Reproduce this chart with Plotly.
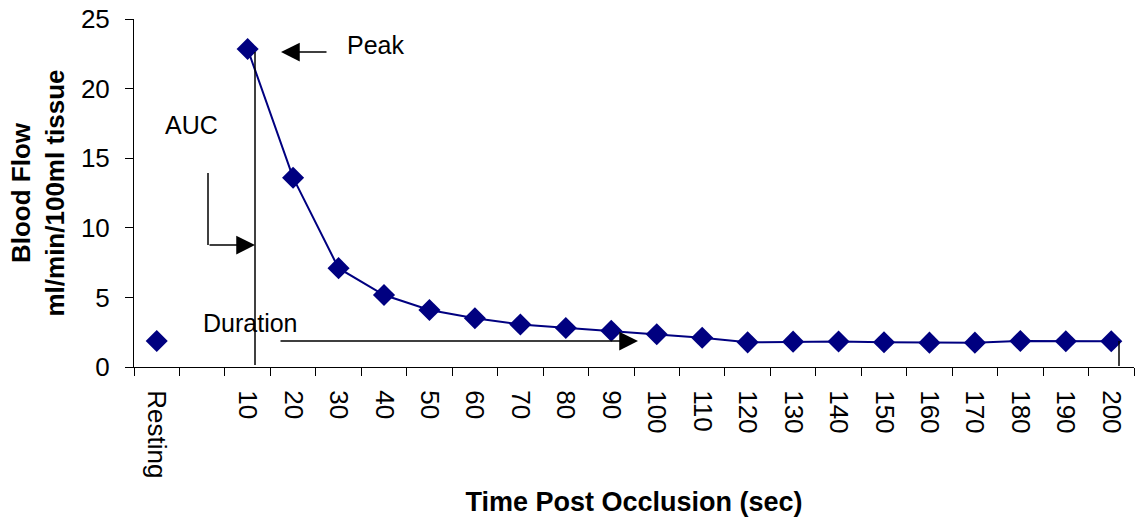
import plotly.graph_objects as go

categories = ["Resting", " ", "10", "20", "30", "40", "50", "60", "70", "80", "90", "100",
              "110", "120", "130", "140", "150", "160", "170", "180", "190", "200"]
blood_flow = [1.87, None, 22.84, 13.6, 7.1, 5.17, 4.1, 3.5, 3.05, 2.8, 2.6, 2.35,
              2.1, 1.77, 1.82, 1.83, 1.78, 1.75, 1.75, 1.87, 1.85, 1.85]

W, H = 1136, 520
L, R, T, B = 134, 2, 19, 153
PW, PH = W - L - R, H - T - B

def px_x(p):
    return (p - L) / PW

def px_y(p):
    return (H - B - p) / PH

fig = go.Figure()
fig.add_trace(go.Scatter(
    x=categories, y=blood_flow, mode="lines+markers",
    line=dict(color="#000080", width=2),
    marker=dict(symbol="diamond", size=17, color="#000080"),
    connectgaps=False, showlegend=False, cliponaxis=False,
))

line_style = dict(color="black", width=1.5)
shapes = [
    dict(type="line", xref="paper", yref="paper", x0=px_x(255), x1=px_x(255), y0=px_y(52), y1=px_y(365), line=line_style),
    dict(type="line", xref="paper", yref="paper", x0=px_x(208), x1=px_x(208), y0=px_y(173), y1=px_y(245), line=line_style),
    dict(type="line", xref="paper", yref="paper", x0=px_x(1119), x1=px_x(1119), y0=px_y(341), y1=px_y(366), line=line_style),
]

txt_font = dict(family="Liberation Sans, Arial, sans-serif", size=25, color="black")
def label(text, cx, cy):
    return dict(text=text, xref="paper", yref="paper", x=px_x(cx), y=px_y(cy),
                xanchor="center", yanchor="middle", showarrow=False, font=txt_font)

def arrow(tipx, tipy, tailx, taily):
    return dict(text="", xref="paper", yref="paper", x=px_x(tipx), y=px_y(tipy),
                ax=tailx - tipx, ay=taily - tipy, showarrow=True,
                arrowhead=2, arrowsize=2.5, arrowwidth=1.5, arrowcolor="black", standoff=0)

annotations = [
    label("Peak", 375, 45),
    label("AUC", 191, 125),
    label("Duration", 250, 323),
    arrow(281, 52, 328, 52),
    arrow(255, 245, 208, 245),
    arrow(638, 341, 279, 341),
]

fig.update_layout(
    width=W, height=H,
    margin=dict(l=L, r=R, t=T, b=B),
    paper_bgcolor="white", plot_bgcolor="white",
    font=dict(family="Liberation Sans, Arial, sans-serif", size=25, color="black"),
    shapes=shapes, annotations=annotations,
    xaxis=dict(
        type="category", categoryorder="array", categoryarray=categories,
        range=[-0.5, len(categories) - 0.5],
        tickson="boundaries", ticks="outside", ticklen=8, tickcolor="black", tickwidth=1,
        showline=True, linecolor="black", linewidth=1, showgrid=False, zeroline=False,
        tickangle=90, tickfont=dict(size=26), ticklabelstandoff=17,
        title=dict(text="<b>Time Post Occlusion (sec)</b>", font=dict(size=27), standoff=14),
    ),
    yaxis=dict(
        range=[0, 25], dtick=5, ticks="outside", ticklen=8, tickcolor="black", tickwidth=1,
        showline=True, linecolor="black", linewidth=1, showgrid=False, zeroline=False,
        tickfont=dict(size=26), ticklabelstandoff=10,
        title=dict(text="<b>Blood Flow<br>ml/min/100ml tissue</b>", font=dict(size=26), standoff=8),
    ),
)

fig.write_html("out.html")
